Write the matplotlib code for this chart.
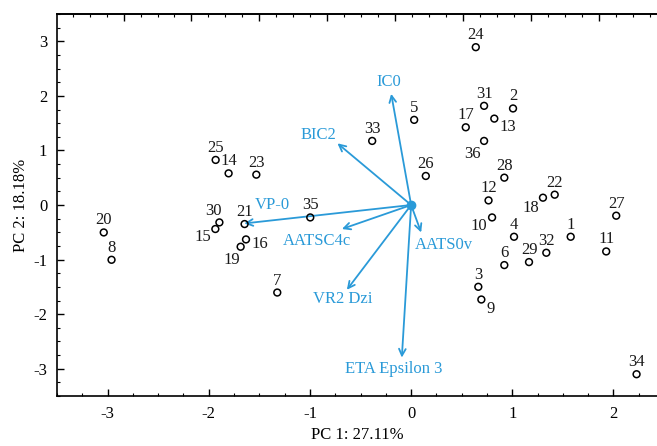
import matplotlib
matplotlib.use("Agg")
import matplotlib.pyplot as plt
from matplotlib.ticker import MultipleLocator

# ---- data ----
sample_ids = [str(i) for i in range(1, 37)]
pc1 = [1.577, 1.007, 0.664, 1.017, 0.030, 0.921, -1.323, -2.961, 0.694, 0.800,
       1.928, 0.765, 0.822, -1.804, -1.935, -1.632, 0.540, 1.303, -1.685, -3.038,
       -1.646, 1.419, -1.530, 0.639, -1.932, 0.145, 2.027, 0.921, 1.165, -1.895,
       0.721, 1.336, -0.385, 2.228, -0.997, 0.721]
pc2 = [-0.582, 1.769, -1.499, -0.582, 1.560, -1.101, -1.604, -1.004, -1.732, -0.228,
       -0.851, 0.084, 1.583, 0.580, -0.440, -0.631, 1.424, 0.134, -0.765, -0.503,
       -0.349, 0.189, 0.556, 2.892, 0.826, 0.532, -0.196, 0.501, -1.046, -0.319,
       1.817, -0.875, 1.174, -3.101, -0.228, 1.174]

variables = ["IC0", "BIC2", "VP-0", "AATSC4c", "VR2 Dzi", "AATS0v", "ETA Epsilon 3"]
load1 = [-0.197, -0.728, -1.649, -0.684, -0.635, 0.099, -0.092]
load2 = [2.037, 1.130, -0.338, -0.440, -1.554, -0.503, -2.796]

x_label = "PC 1: 27.11%"
y_label = "PC 2: 18.18%"

# ---- label placement (styles / positions) ----
default_off = (0, 12)  # pixels, up
special_off = {"13": (13, -8), "36": (-12, -13), "18": (-12, -10), "10": (-13, -9),
               "9": (9, -9), "30": (-6, 11), "15": (-12, -8), "16": (14, -5),
               "19": (-9, -13)}
var_label_pos = [(-0.217, 2.250), (-0.913, 1.281), (-1.375, 0.006), (-0.931, -0.655),
                 (-0.681, -1.728), (0.319, -0.728), (-0.168, -3.004)]

BLUE = "#2A9AD8"
FS = 12
plt.rcParams['font.family'] = ['Liberation Serif', 'DejaVu Serif']
plt.rcParams['axes.unicode_minus'] = False

W, H = 657, 446
fig = plt.figure(figsize=(W / 100, H / 100), dpi=100)
left, right, top, bottom = 57, 657, 14, 396
ax = fig.add_axes([left / W, 1 - bottom / H, (right - left) / W, (bottom - top) / H])
ax.set_xlim(-3.5, 2.43)
ax.set_ylim(-3.5, 3.5)

ax.scatter(pc1, pc2, s=24, facecolors='none', edgecolors='black', linewidths=1.1, zorder=3)
px2pt = 72 / 100
for sid, x, y in zip(sample_ids, pc1, pc2):
    dx, dy = special_off.get(sid, default_off)
    ax.annotate(sid, (x, y), xytext=(dx * px2pt, dy * px2pt), textcoords='offset points',
                ha='center', va='center', fontsize=FS, color='#1a1a1a')

for name, lx, ly, (tx, ty) in zip(variables, load1, load2, var_label_pos):
    ax.annotate("", xy=(lx, ly), xytext=(0, 0),
                arrowprops=dict(arrowstyle='->', color=BLUE, lw=1.3,
                                mutation_scale=12, shrinkA=0, shrinkB=0), zorder=2)
    ax.text(tx, ty, name, color=BLUE, fontsize=FS, ha='center', va='center')
ax.plot([0], [0], 'o', color=BLUE, ms=6, zorder=4)

ax.xaxis.set_major_locator(MultipleLocator(1))
ax.xaxis.set_minor_locator(MultipleLocator(0.25))
ax.yaxis.set_major_locator(MultipleLocator(1))
ax.yaxis.set_minor_locator(MultipleLocator(0.25))
ax.tick_params(which='both', direction='in', top=False, right=False, labelsize=FS)
ax.tick_params(which='major', length=5, width=1, pad=7)
ax.tick_params(which='minor', length=2.5, width=0.8)
for s in ['left', 'bottom', 'top']:
    ax.spines[s].set_linewidth(1.2)
ax.spines['right'].set_visible(False)

off, step = -0.158, 0.671
sec = ax.secondary_xaxis('top', functions=(lambda x: (x - off) / step, lambda u: u * step + off))
sec.xaxis.set_major_locator(MultipleLocator(1))
sec.xaxis.set_minor_locator(MultipleLocator(0.25))
sec.tick_params(which='both', direction='in', labeltop=False)
sec.tick_params(which='major', length=5, width=1)
sec.tick_params(which='minor', length=2.5, width=0.8)
sec.spines['top'].set_linewidth(1.2)

ax.set_xlabel(x_label, fontsize=FS, labelpad=4)
ax.set_ylabel(y_label, fontsize=FS, labelpad=3)

fig.savefig("out.png", dpi=100)
